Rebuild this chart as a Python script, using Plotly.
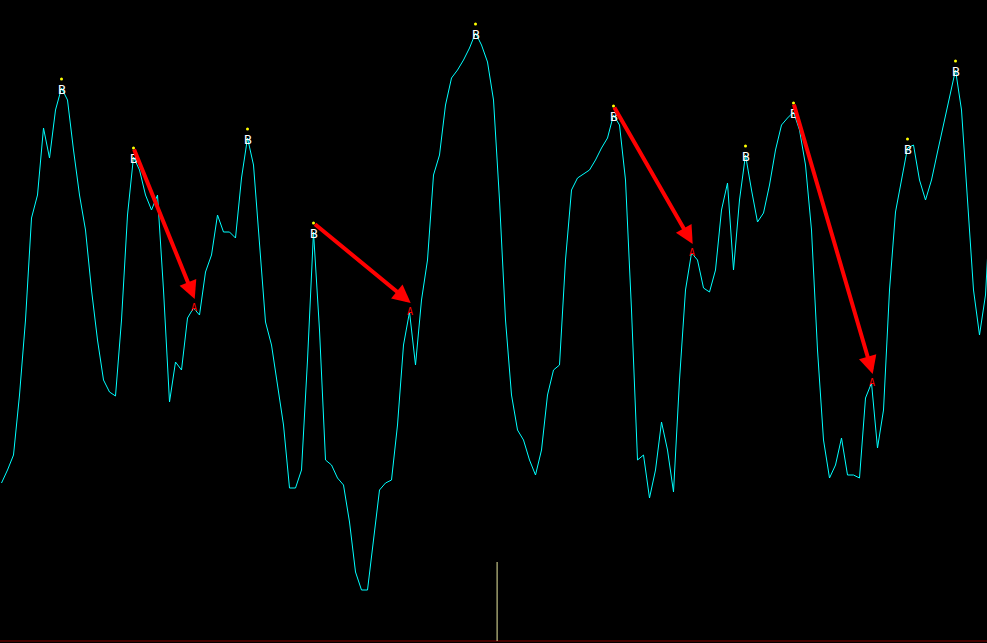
import plotly.graph_objects as go

# Oscillator values (height units), one per bar
values = [
    160, 173, 188, 248, 323, 425, 448, 515, 485, 533,
    555, 543, 493, 448, 413, 353, 303, 263, 251, 247,
    323, 428, 486, 473, 448, 433, 448, 353, 241, 281,
    273, 325, 335, 328, 371, 388, 428, 411, 411, 405,
    465, 505, 478, 403, 321, 298, 258, 218, 155, 155,
    173, 283, 411, 313, 183, 178, 165, 158, 121, 71,
    53, 53, 103, 153, 160, 163, 218, 298, 331, 278,
    343, 383, 468, 488, 538, 565, 573, 583, 595, 610,
    598, 581, 543, 443, 323, 248, 213, 203, 183, 168,
    193, 248, 273, 278, 383, 453, 465, 469, 473, 483,
    495, 505, 528, 518, 463, 333, 183, 188, 145, 173,
    221, 193, 151, 263, 353, 390, 383, 355, 351, 373,
    433, 460, 373, 443, 488, 453, 421, 430, 458, 493,
    518, 525, 531, 513, 478, 413, 293, 203, 165, 178,
    205, 168, 168, 165, 245, 260, 195, 233, 353, 431,
    463, 495, 498, 463, 443, 463, 491, 518, 548, 573,
    533, 443, 353, 308, 348, 458,
]
bars = list(range(len(values)))

# Signal bars
b_bars = [10, 22, 41, 52, 79, 102, 124, 132, 151, 159]
a_bars = [32, 68, 115, 145]
# Arrows: (from B bar, to A bar)
arrow_pairs = [(22, 32), (52, 68), (102, 115), (132, 145)]

cursor_bar = 82.6
cursor_top = 81

fig = go.Figure()
fig.add_trace(go.Scatter(x=bars, y=values, mode="lines",
                         line=dict(color="#00FFFF", width=1), hoverinfo="skip"))

# yellow dots above B signals
fig.add_trace(go.Scatter(x=b_bars, y=[values[i] + 9 for i in b_bars], mode="markers",
                         marker=dict(color="#FFFF00", size=3, line=dict(width=0)),
                         hoverinfo="skip"))

annotations = []
for i in b_bars:
    annotations.append(dict(x=i, y=values[i], text="B", showarrow=False,
                            font=dict(family="DejaVu Sans Mono", size=13, color="#FFFFFF"),
                            xanchor="center", yanchor="middle", yshift=-1))
for i in a_bars:
    annotations.append(dict(x=i, y=values[i], text="A", showarrow=False,
                            font=dict(family="DejaVu Sans Mono", size=10, color="#FF0000"),
                            xanchor="center", yanchor="middle", yshift=1))
for b, a in arrow_pairs:
    annotations.append(dict(x=a + 0.2, y=values[a] + 9, ax=b, ay=values[b] + 9,
                            xref="x", yref="y", axref="x", ayref="y",
                            text="", showarrow=True, arrowhead=2, arrowsize=0.9,
                            arrowwidth=4, arrowcolor="#FF0000"))

shapes = [
    dict(type="line", xref="paper", yref="y", x0=0, x1=1, y0=2, y1=2,
         line=dict(color="#8B0000", width=1)),
    dict(type="line", xref="x", yref="y", x0=cursor_bar, x1=cursor_bar, y0=2, y1=cursor_top,
         line=dict(color="#E8E8A0", width=1)),
]

fig.update_layout(
    width=987, height=643,
    margin=dict(l=0, r=0, t=0, b=0),
    paper_bgcolor="#000000", plot_bgcolor="#000000",
    showlegend=False,
    xaxis=dict(range=[-0.25, 164.25], visible=False, fixedrange=True),
    yaxis=dict(range=[0, 643], visible=False, fixedrange=True),
    annotations=annotations, shapes=shapes,
)

fig.write_html("out.html", config={"displayModeBar": False},
               post_script="document.body.style.margin='0';document.body.style.background='#000';document.body.style.overflow='hidden';")
